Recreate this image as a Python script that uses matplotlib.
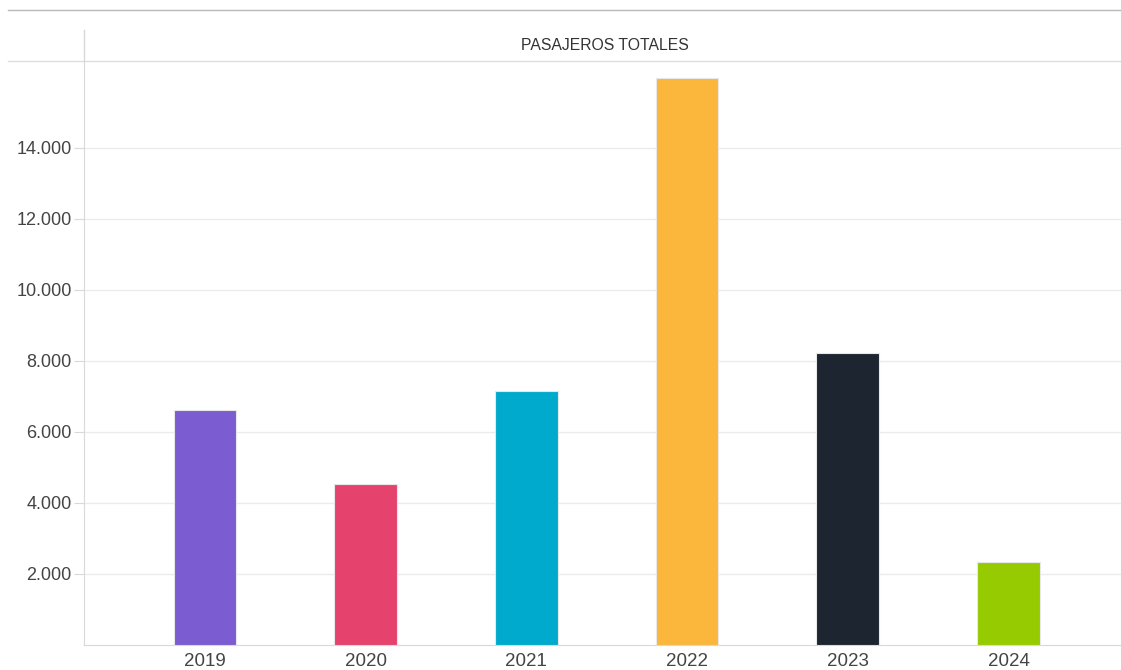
import matplotlib.pyplot as plt
from matplotlib.lines import Line2D
from matplotlib.ticker import FuncFormatter

years = ["2019", "2020", "2021", "2022", "2023", "2024"]
pasajeros = [6620, 4540, 7160, 15980, 8230, 2340]
colores = ["#7b5cd1", "#e5436e", "#00aacc", "#fbb63c", "#1c2530", "#95cb00"]
yticks = [2000, 4000, 6000, 8000, 10000, 12000, 14000]

plt.rcParams['font.family'] = ['Liberation Sans', 'DejaVu Sans']

fig = plt.figure(figsize=(11.21, 6.70), dpi=100)
ax = fig.add_axes([84 / 1121, 25 / 670, 1 - 84 / 1121, (645 - 61) / 670])

x = list(range(len(years)))
ax.bar(x, pasajeros, width=0.39, color=colores, edgecolor="#e8e8e8", linewidth=0.8, zorder=3)

ax.set_xlim(-0.753, 5.70)
ax.set_ylim(0, 16450)
ax.set_xticks(x)
ax.set_xticklabels(years)
ax.set_yticks(yticks)
ax.yaxis.set_major_formatter(FuncFormatter(lambda v, p: "{:,.0f}".format(v).replace(",", ".")))

ax.grid(axis="y", color="#ebebeb", linewidth=1, zorder=0)
for s in ["top", "right"]:
    ax.spines[s].set_visible(False)
ax.spines["left"].set_color("#d9d9d9")
ax.spines["bottom"].set_color("#d9d9d9")
ax.tick_params(axis="y", length=7, color="#d9d9d9", labelsize=13, labelcolor="#444444", pad=2)
ax.tick_params(axis="x", length=0, labelsize=13.5, labelcolor="#444444", pad=6)

# linea superior, separador del titulo y eje vertical extendido
fig.add_artist(Line2D([8 / 1121, 1], [1 - 10 / 670] * 2, color="#b8b8b8", linewidth=1))
fig.add_artist(Line2D([8 / 1121, 1], [1 - 61 / 670] * 2, color="#dddddd", linewidth=1))
fig.add_artist(Line2D([84 / 1121] * 2, [1 - 30 / 670, 1 - 61 / 670], color="#d9d9d9", linewidth=1))
fig.text(605 / 1121, 1 - 46 / 670, "PASAJEROS TOTALES", ha="center", va="center", fontsize=11.3, color="#333333")

fig.savefig("out.png", dpi=100)
